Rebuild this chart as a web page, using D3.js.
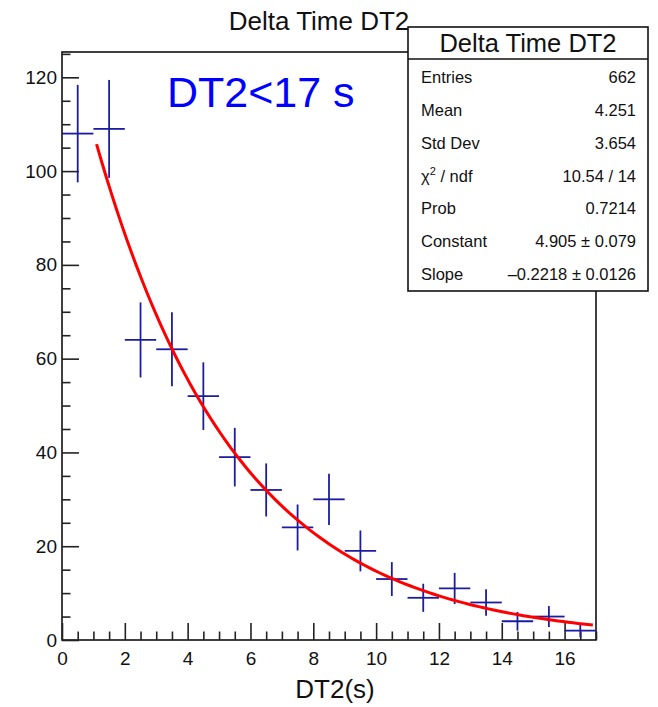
<!DOCTYPE html>
<html>
<head>
<meta charset="utf-8">
<script src="https://cdn.jsdelivr.net/npm/d3@7"></script>
<style>
  html, body { margin: 0; padding: 0; background: #fff; }
  svg { display: block; font-family: "Liberation Sans", Arial, Helvetica, sans-serif; }
</style>
</head>
<body>
<svg id="chart" width="658" height="707"></svg>
<script>
// Histogram of DT2 (1 s bins) with an exponential fit
const binCenters = [0.5, 1.5, 2.5, 3.5, 4.5, 5.5, 6.5, 7.5, 8.5, 9.5, 10.5, 11.5, 12.5, 13.5, 14.5, 15.5, 16.5];
const binCounts  = [108, 109, 64, 62, 52, 39, 32, 24, 30, 19, 13, 9, 11, 8, 4, 5, 2];
const binWidth = 1;

// expo fit: exp(Constant + Slope * x)
const fitParams = { constant: 4.905, slope: -0.2218 };
const fitRange = [1.1, 16.9];

const xDomain = [0, 17];
const yDomain = [0, 125.4];
const xMajorTicks = [0, 2, 4, 6, 8, 10, 12, 14, 16];
const yMajorTicks = [0, 20, 40, 60, 80, 100, 120];

const statLabels = ["Entries", "Mean", "Std Dev", "chi2", "Prob", "Constant", "Slope"];
const statValues = ["662", "4.251", "3.654", "10.54 / 14", "0.7214", "4.905 \u00b1 0.079", "\u20130.2218 \u00b1 0.0126"];

const histTitle = "Delta Time DT2";
const xTitle = "DT2(s)";
const cutLabel = "DT2<17 s";

const svg = d3.select("#chart");
const frame = { left: 62, right: 596, top: 52, bottom: 640 };

const x = d3.scaleLinear().domain(xDomain).range([frame.left, frame.right]);
const y = d3.scaleLinear().domain(yDomain).range([frame.bottom, frame.top]);

// title
svg.append("text")
  .attr("x", 319).attr("y", 30)
  .attr("text-anchor", "middle")
  .attr("font-size", 26)
  .attr("fill", "#111")
  .text(histTitle);

// frame
svg.append("rect")
  .attr("x", frame.left).attr("y", frame.top)
  .attr("width", frame.right - frame.left).attr("height", frame.bottom - frame.top)
  .attr("fill", "none").attr("stroke", "#111").attr("stroke-width", 1.6);

// minor ticks
const xMinor = d3.range(0, 17.001, 0.5).filter(v => !xMajorTicks.includes(v));
const yMinor = d3.range(0, 125.001, 5).filter(v => !yMajorTicks.includes(v));

const gx = svg.append("g").attr("transform", `translate(0,${frame.bottom})`);
gx.call(d3.axisBottom(x).tickValues(xMajorTicks).tickSize(-17).tickPadding(12).tickFormat(d3.format("d")));
const gxm = svg.append("g").attr("transform", `translate(0,${frame.bottom})`);
gxm.call(d3.axisBottom(x).tickValues(xMinor).tickSize(-8.5).tickFormat(""));

const gy = svg.append("g").attr("transform", `translate(${frame.left},0)`);
gy.call(d3.axisLeft(y).tickValues(yMajorTicks).tickSize(-17).tickPadding(5).tickFormat(d3.format("d")));
const gym = svg.append("g").attr("transform", `translate(${frame.left},0)`);
gym.call(d3.axisLeft(y).tickValues(yMinor).tickSize(-8.5).tickFormat(""));

svg.selectAll(".domain").remove();
svg.selectAll(".tick line").attr("stroke", "#222").attr("stroke-width", 1.6);
svg.selectAll(".tick text")
  .attr("font-size", 19)
  .attr("fill", "#111")
  .attr("font-family", "Liberation Sans, Arial, Helvetica, sans-serif");
gy.selectAll(".tick text").attr("x", -5);

// x axis title
svg.append("text")
  .attr("x", 335).attr("y", 698)
  .attr("text-anchor", "middle")
  .attr("font-size", 26)
  .attr("fill", "#111")
  .text(xTitle);

// histogram points with error bars
const bins = binCenters.map((c, i) => ({ c, n: binCounts[i], e: Math.sqrt(binCounts[i]) }));
const barColor = "#1c1ca0";
const gb = svg.append("g").attr("stroke", barColor).attr("stroke-width", 1.8);
gb.selectAll("line.h").data(bins).join("line").attr("class", "h")
  .attr("x1", d => x(d.c - binWidth / 2)).attr("x2", d => x(d.c + binWidth / 2))
  .attr("y1", d => y(d.n)).attr("y2", d => y(d.n));
gb.selectAll("line.v").data(bins).join("line").attr("class", "v")
  .attr("x1", d => x(d.c)).attr("x2", d => x(d.c))
  .attr("y1", d => y(d.n + d.e)).attr("y2", d => y(Math.max(0, d.n - d.e)));

// fit curve
const fitXs = d3.range(0, 101).map(i => fitRange[0] + (fitRange[1] - fitRange[0]) * i / 100);
const fitLine = d3.line()
  .x(v => x(v))
  .y(v => y(Math.exp(fitParams.constant + fitParams.slope * v)));
svg.append("path")
  .datum(fitXs)
  .attr("d", fitLine)
  .attr("fill", "none")
  .attr("stroke", "#ff0000")
  .attr("stroke-width", 3)
  .attr("stroke-linejoin", "round");

// cut annotation
svg.append("text")
  .attr("x", 167).attr("y", 107)
  .attr("font-size", 43)
  .attr("fill", "#0000ff")
  .text(cutLabel);

// statistics box
const box = { left: 408, right: 648, top: 27, sep: 59, bottom: 291 };
const gs = svg.append("g");
gs.append("rect")
  .attr("x", box.left).attr("y", box.top)
  .attr("width", box.right - box.left).attr("height", box.bottom - box.top)
  .attr("fill", "#fff").attr("stroke", "#111").attr("stroke-width", 1.6);
gs.append("line")
  .attr("x1", box.left).attr("x2", box.right)
  .attr("y1", box.sep).attr("y2", box.sep)
  .attr("stroke", "#111").attr("stroke-width", 1.4);
gs.append("text")
  .attr("x", (box.left + box.right) / 2).attr("y", 52)
  .attr("text-anchor", "middle")
  .attr("font-size", 25.5)
  .attr("fill", "#111")
  .text(histTitle);

const rowY = d3.scaleLinear().domain([0, statLabels.length - 1]).range([83, 280]);
statLabels.forEach((lab, i) => {
  const t = gs.append("text")
    .attr("x", 421).attr("y", rowY(i))
    .attr("font-size", 16.5)
    .attr("fill", "#111");
  if (lab === "chi2") {
    t.append("tspan").text("\u03c7");
    t.append("tspan").attr("font-size", 11).attr("dy", -7).text("2");
    t.append("tspan").attr("dy", 7).text(" / ndf");
  } else {
    t.text(lab);
  }
  gs.append("text")
    .attr("x", 636).attr("y", rowY(i))
    .attr("text-anchor", "end")
    .attr("font-size", 16.5)
    .attr("fill", "#111")
    .text(statValues[i]);
});
</script>
</body>
</html>
